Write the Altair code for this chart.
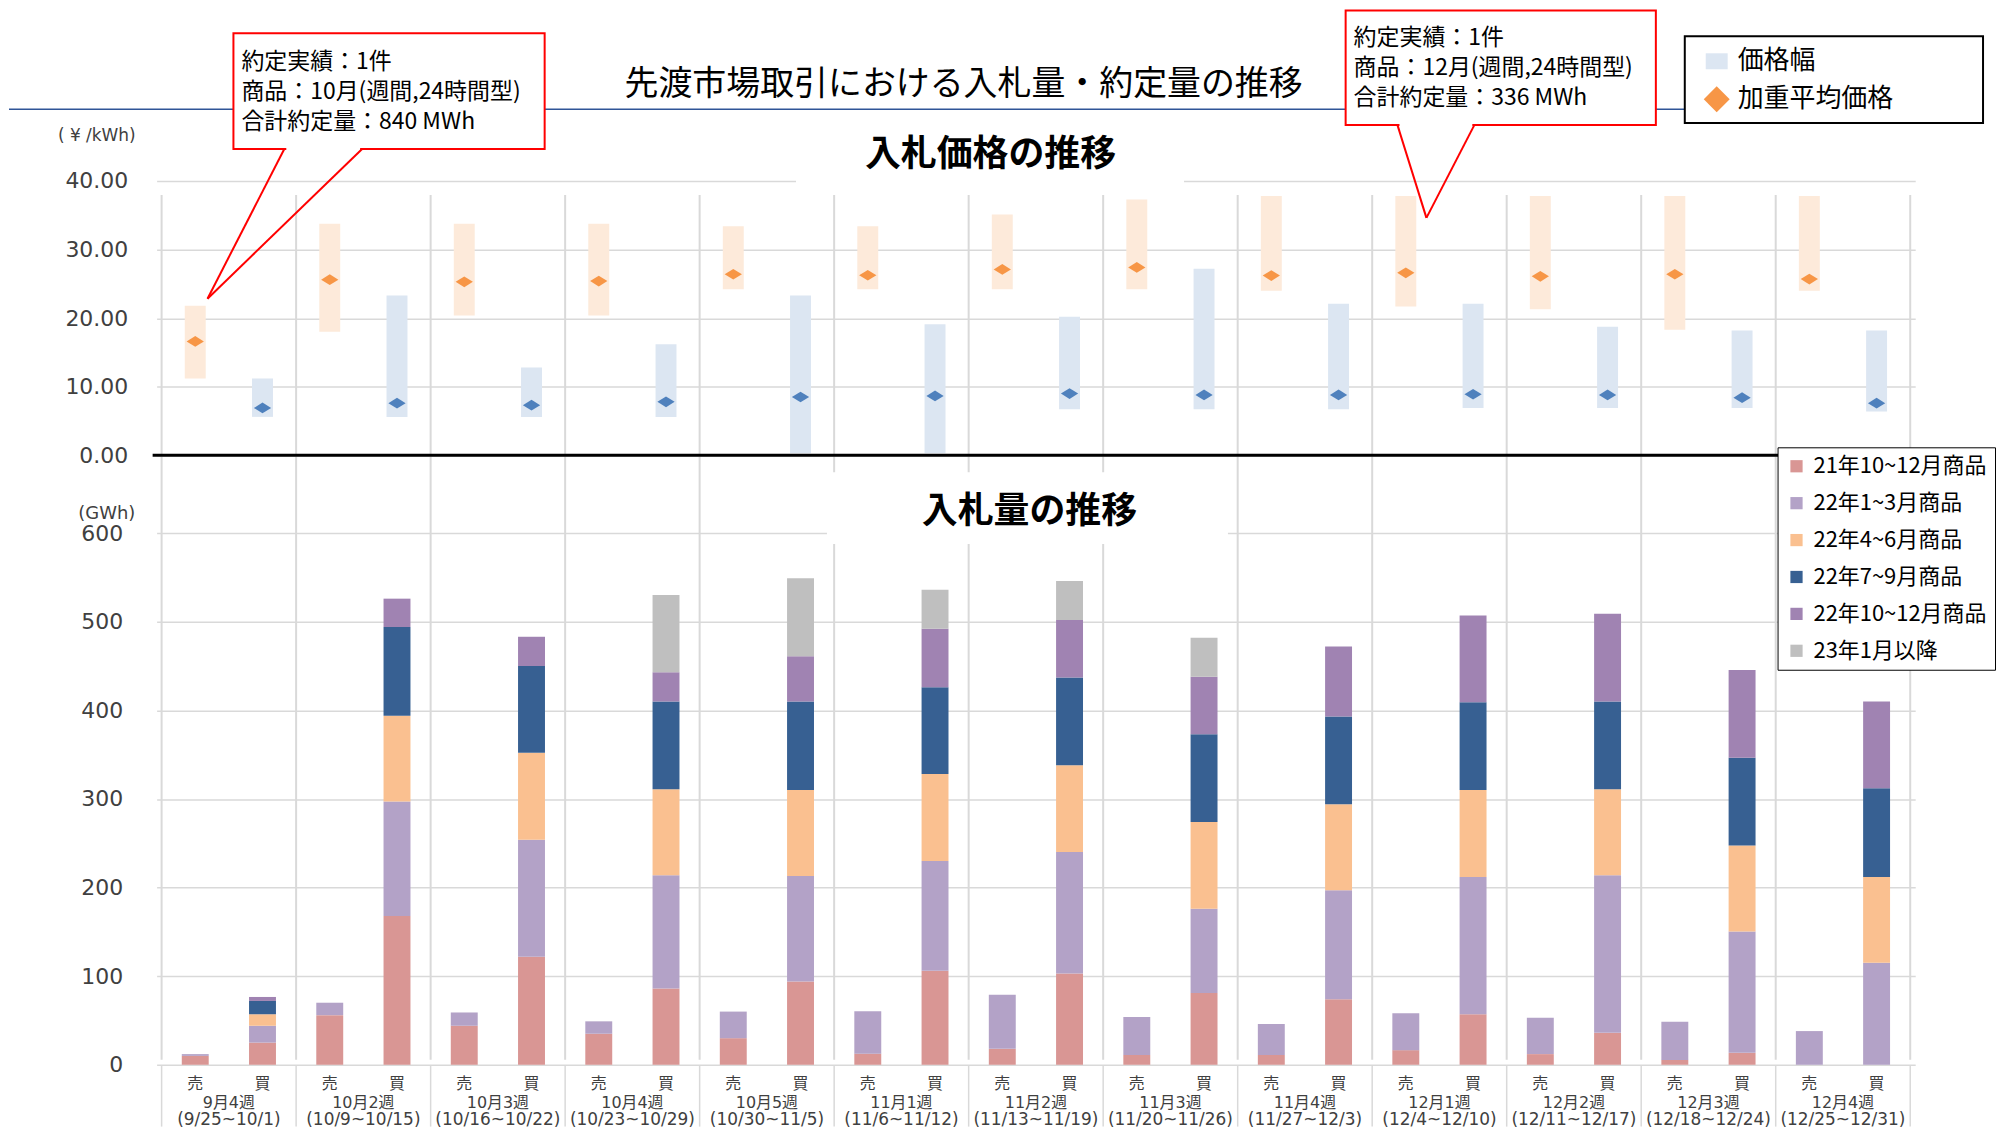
import altair as alt
import pandas as pd

# ---------------- data ----------------
weeks = ["9月4週", "10月2週", "10月3週", "10月4週", "10月5週", "11月1週", "11月2週",
         "11月3週", "11月4週", "12月1週", "12月2週", "12月3週", "12月4週"]
ranges = ["(9/25~10/1)", "(10/9~10/15)", "(10/16~10/22)", "(10/23~10/29)", "(10/30~11/5)",
          "(11/6~11/12)", "(11/13~11/19)", "(11/20~11/26)", "(11/27~12/3)", "(12/4~12/10)",
          "(12/11~12/17)", "(12/18~12/24)", "(12/25~12/31)"]
sides = ["売", "買"]

# price (yen/kWh): sell = 売, buy = 買
sell_hi = [21.8, 33.75, 33.75, 33.75, 33.4, 33.4, 35.1, 37.3, 37.8, 37.8, 37.8, 37.8, 37.8]
sell_lo = [11.2, 18.0, 20.4, 20.4, 24.2, 24.2, 24.2, 24.2, 24.0, 21.7, 21.3, 18.3, 24.0]
sell_avg = [16.6, 25.6, 25.3, 25.4, 26.4, 26.25, 27.1, 27.4, 26.2, 26.6, 26.1, 26.4, 25.7]
buy_hi = [11.2, 23.3, 12.8, 16.2, 23.3, 19.1, 20.2, 27.2, 22.1, 22.1, 18.75, 18.2, 18.2]
buy_lo = [5.6, 5.6, 5.6, 5.6, 0.3, 0.3, 6.7, 6.7, 6.7, 6.9, 6.9, 6.9, 6.4]
buy_avg = [6.9, 7.6, 7.3, 7.8, 8.5, 8.65, 9.0, 8.8, 8.8, 8.9, 8.8, 8.4, 7.6]

# volume (GWh)
series = ["21年10~12月商品", "22年1~3月商品", "22年4~6月商品", "22年7~9月商品",
          "22年10~12月商品", "23年1月以降"]
colors = ["#D99694", "#B3A2C7", "#FAC090", "#376092", "#A083B2", "#BFBFBF"]

sell_s1 = [10, 56, 44, 35, 30, 12.5, 18, 11, 11, 16.5, 12, 5.5, 0]
sell_s2 = [2, 14, 15, 14, 30, 48, 61, 43, 35, 41.5, 41, 43, 38]
sell_s3 = [0] * 13
sell_s4 = [0] * 13
sell_s5 = [0] * 13
sell_s6 = [0] * 13

buy_s1 = [25, 168, 122, 86, 94, 106, 103, 81, 74, 57, 36, 13.5, 0]
buy_s2 = [19, 129, 132, 128, 119, 124, 137, 95, 123, 155, 178, 137, 115]
buy_s3 = [13, 97, 98, 97, 97, 98, 98, 98, 97, 98, 97, 97, 97]
buy_s4 = [15, 100, 98, 99, 100, 98, 99, 99, 99, 99, 99, 99, 100]
buy_s5 = [4.5, 32, 33, 33, 51, 66, 65, 65, 79, 98, 99, 99, 98]
buy_s6 = [0, 0, 0, 87, 88, 44, 44, 44, 0, 0, 0, 0, 0]

callout1 = ["約定実績：1件", "商品：10月(週間,24時間型)", "合計約定量：840 MWh"]
callout2 = ["約定実績：1件", "商品：12月(週間,24時間型)", "合計約定量：336 MWh"]

# ---------------- tables ----------------
price_rows = []
for i in range(len(weeks)):
    price_rows.append(dict(w=i, pos=i + 0.25, side="売", lo=sell_lo[i], hi=sell_hi[i], avg=sell_avg[i]))
    price_rows.append(dict(w=i, pos=i + 0.75, side="買", lo=buy_lo[i], hi=buy_hi[i], avg=buy_avg[i]))
price_df = pd.DataFrame(price_rows)

sell_all = [sell_s1, sell_s2, sell_s3, sell_s4, sell_s5, sell_s6]
buy_all = [buy_s1, buy_s2, buy_s3, buy_s4, buy_s5, buy_s6]
vol_rows = []
for i in range(len(weeks)):
    for k, s in enumerate(series):
        if sell_all[k][i] > 0:
            vol_rows.append(dict(pos=i + 0.25, series=s, k=k, value=sell_all[k][i]))
        if buy_all[k][i] > 0:
            vol_rows.append(dict(pos=i + 0.75, series=s, k=k, value=buy_all[k][i]))
vol_df = pd.DataFrame(vol_rows)

bound_df = pd.DataFrame({"b": list(range(len(weeks) + 1))})
side_df = pd.DataFrame([dict(pos=i + (0.25 if s == "売" else 0.75), t=s)
                        for i in range(len(weeks)) for s in sides])
week_df = pd.DataFrame({"pos": [i + 0.5 for i in range(len(weeks))], "week": weeks, "rng": ranges})
one = pd.DataFrame({"a": [0]})

# ---------------- layout constants ----------------
W = 1763
H1 = 275
H2 = 533
TX, TY = 156, 179   # page position of top plot origin
BX, BY = 156, 532   # page position of bottom plot origin
JP = "Noto Sans CJK JP"
NUM = "DejaVu Sans, Noto Sans CJK JP"
GRID = "#D9D9D9"

xs = alt.Scale(domain=[0, 13], nice=False, zero=False)


def txt(ox, oy, x, y, s, size, font=JP, align="left", weight="normal", color="black", lh=0):
    kw = dict(text=s, fontSize=size, font=font, align=align, baseline="middle",
              fontWeight=weight, color=color)
    if lh:
        kw["lineHeight"] = lh
    return alt.Chart(one).mark_text(**kw).encode(x=alt.value(x - ox), y=alt.value(y - oy))


def rect(ox, oy, x1, y1, x2, y2, fill, stroke="", sw=0):
    kw = dict(fill=fill)
    if stroke:
        kw.update(stroke=stroke, strokeWidth=sw)
    return alt.Chart(one).mark_rect(**kw).encode(
        x=alt.value(x1 - ox), x2=alt.value(x2 - ox), y=alt.value(y1 - oy), y2=alt.value(y2 - oy))


def seg(ox, oy, x1, y1, x2, y2, color, w):
    return alt.Chart(one).mark_rule(color=color, strokeWidth=w).encode(
        x=alt.value(x1 - ox), x2=alt.value(x2 - ox), y=alt.value(y1 - oy), y2=alt.value(y2 - oy))


# ---------------- top panel: prices ----------------
sep_top = alt.Chart(bound_df).mark_rule(color=GRID, strokeWidth=2).encode(
    x=alt.X("b:Q", scale=xs, axis=None), y=alt.value(193 - TY), y2=alt.value(BY - TY))

range_bars = alt.Chart(price_df).mark_bar(size=21).encode(
    x=alt.X("pos:Q", scale=xs, axis=None),
    y=alt.Y("lo:Q", scale=alt.Scale(domain=[0, 40], nice=False),
            axis=alt.Axis(values=[0, 10, 20, 30, 40], format=".2f", labelFont=NUM, labelFontSize=22,
                          labelColor="#404040", labelPadding=29, ticks=False, domain=False,
                          grid=True, gridColor=GRID, gridWidth=1.5, title=None)),
    y2="hi:Q",
    color=alt.condition(alt.datum.side == "売", alt.value("#FDEADA"), alt.value("#DCE6F2")))

avg_pts = alt.Chart(price_df).mark_point(
    filled=True, opacity=1, size=300, shape="M -1 0 L 0 -0.62 L 1 0 L 0 0.62 Z").encode(
    x=alt.X("pos:Q", scale=xs, axis=None),
    y=alt.Y("avg:Q"),
    color=alt.condition(alt.datum.side == "売", alt.value("#F79646"), alt.value("#4F81BD")))

zero_line = alt.Chart(one).mark_rule(color="black", strokeWidth=3).encode(
    y=alt.datum(0), x=alt.value(152 - TX), x2=alt.value(1783 - TX))

top_layers = [
    sep_top, range_bars, avg_pts, zero_line,
    seg(TX, TY, 8, 107, 1688, 107, "#2F5597", 1.5),
    txt(TX, TY, 965, 83, "先渡市場取引における入札量・約定量の推移", 34, align="center"),
    rect(TX, TY, 797, 118, 1186, 186, "white"),
    txt(TX, TY, 992, 153, "入札価格の推移", 36, align="center", weight="bold"),
    txt(TX, TY, 96, 134, "( ¥ /kWh)", 17, font=NUM, align="center", color="#404040"),
    # callout 1
    rect(TX, TY, 233, 31, 545, 147, "white", "#FF0000", 2),
    seg(TX, TY, 286, 147, 360, 147, "white", 4),
    seg(TX, TY, 284, 147, 207, 297, "#FF0000", 2),
    seg(TX, TY, 362, 147, 207, 297, "#FF0000", 2),
    txt(TX, TY, 241, 60, callout1, 23, lh=30),
    # callout 2
    rect(TX, TY, 1348, 8, 1659, 123, "white", "#FF0000", 2),
    seg(TX, TY, 1402, 123, 1475, 123, "white", 4),
    seg(TX, TY, 1400, 123, 1429, 216, "#FF0000", 2),
    seg(TX, TY, 1477, 123, 1429, 216, "#FF0000", 2),
    txt(TX, TY, 1356, 36, callout2, 23, lh=30),
    # legend 1
    rect(TX, TY, 1688, 34, 1987, 121, "white", "black", 2),
    rect(TX, TY, 1709, 51, 1731, 67, "#DCE6F2"),
    txt(TX, TY, 1741, 59, "価格幅", 26),
    alt.Chart(one).mark_point(shape="diamond", filled=True, opacity=1, size=676, color="#F79646").encode(
        x=alt.value(1720 - TX), y=alt.value(97 - TY)),
    txt(TX, TY, 1741, 97, "加重平均価格", 26),
]
top = alt.layer(*top_layers).properties(width=W, height=H1)

# ---------------- bottom panel: volumes ----------------
# the colour legend is lifted to the concat level, whose origin is the top plot's origin
bars = alt.Chart(vol_df).mark_bar(size=27).encode(
    x=alt.X("pos:Q", scale=xs, axis=None),
    y=alt.Y("value:Q", stack="zero", scale=alt.Scale(domain=[0, 600], nice=False),
            axis=alt.Axis(values=[0, 100, 200, 300, 400, 500, 600], format="d", labelFont=NUM,
                          labelFontSize=22, labelColor="#404040", labelPadding=34, ticks=False,
                          domain=False, grid=True, gridColor=GRID, gridWidth=1.5, title=None)),
    color=alt.Color("series:N", scale=alt.Scale(domain=series, range=colors),
                    legend=alt.Legend(title=None, orient="none", legendX=1781 - TX, legendY=446 - TY,
                                      direction="vertical", symbolType="square", symbolSize=150,
                                      symbolStrokeWidth=0, symbolOpacity=1, labelFont=JP,
                                      labelFontSize=22, labelColor="black", labelOffset=6,
                                      rowPadding=15, padding=8, strokeColor="black",
                                      fillColor="white", zindex=1, labelLimit=400)),
    order=alt.Order("k:Q", sort="ascending"))

sep_bot = alt.Chart(bound_df).mark_rule(color=GRID, strokeWidth=2).encode(
    x=alt.X("b:Q", scale=xs, axis=None), y=alt.value(0), y2=alt.value(1060 - BY))
table_lines = alt.Chart(bound_df).mark_rule(color=GRID, strokeWidth=1.5).encode(
    x=alt.X("b:Q", scale=xs, axis=None), y=alt.value(1066 - BY), y2=alt.value(1127 - BY))
side_lbl = alt.Chart(side_df).mark_text(font=JP, fontSize=16, color="#404040", baseline="middle").encode(
    x=alt.X("pos:Q", scale=xs, axis=None), y=alt.value(1084 - BY), text="t:N")
week_lbl = alt.Chart(week_df).mark_text(font=NUM, fontSize=16, color="#404040", baseline="middle").encode(
    x=alt.X("pos:Q", scale=xs, axis=None), y=alt.value(1103 - BY), text="week:N")
rng_lbl = alt.Chart(week_df).mark_text(font=NUM, fontSize=17, color="#404040", baseline="middle").encode(
    x=alt.X("pos:Q", scale=xs, axis=None), y=alt.value(1120 - BY), text="rng:N")

bottom_layers = [
    bars, sep_bot, table_lines, side_lbl, week_lbl, rng_lbl,
    rect(BX, BY, 828, 471, 1230, 543, "white"),
    txt(BX, BY, 1031, 511, "入札量の推移", 36, align="center", weight="bold"),
    txt(BX, BY, 106, 513, "(GWh)", 18, font=NUM, align="center", color="#404040"),
]
bottom = alt.layer(*bottom_layers).properties(width=W, height=H2)

chart = alt.vconcat(top, bottom, spacing=BY - (TY + H1), bounds="flush").properties(
    padding=0).configure_view(strokeWidth=0)

chart.save("out.html", embed_options={"renderer": "svg", "actions": False})
